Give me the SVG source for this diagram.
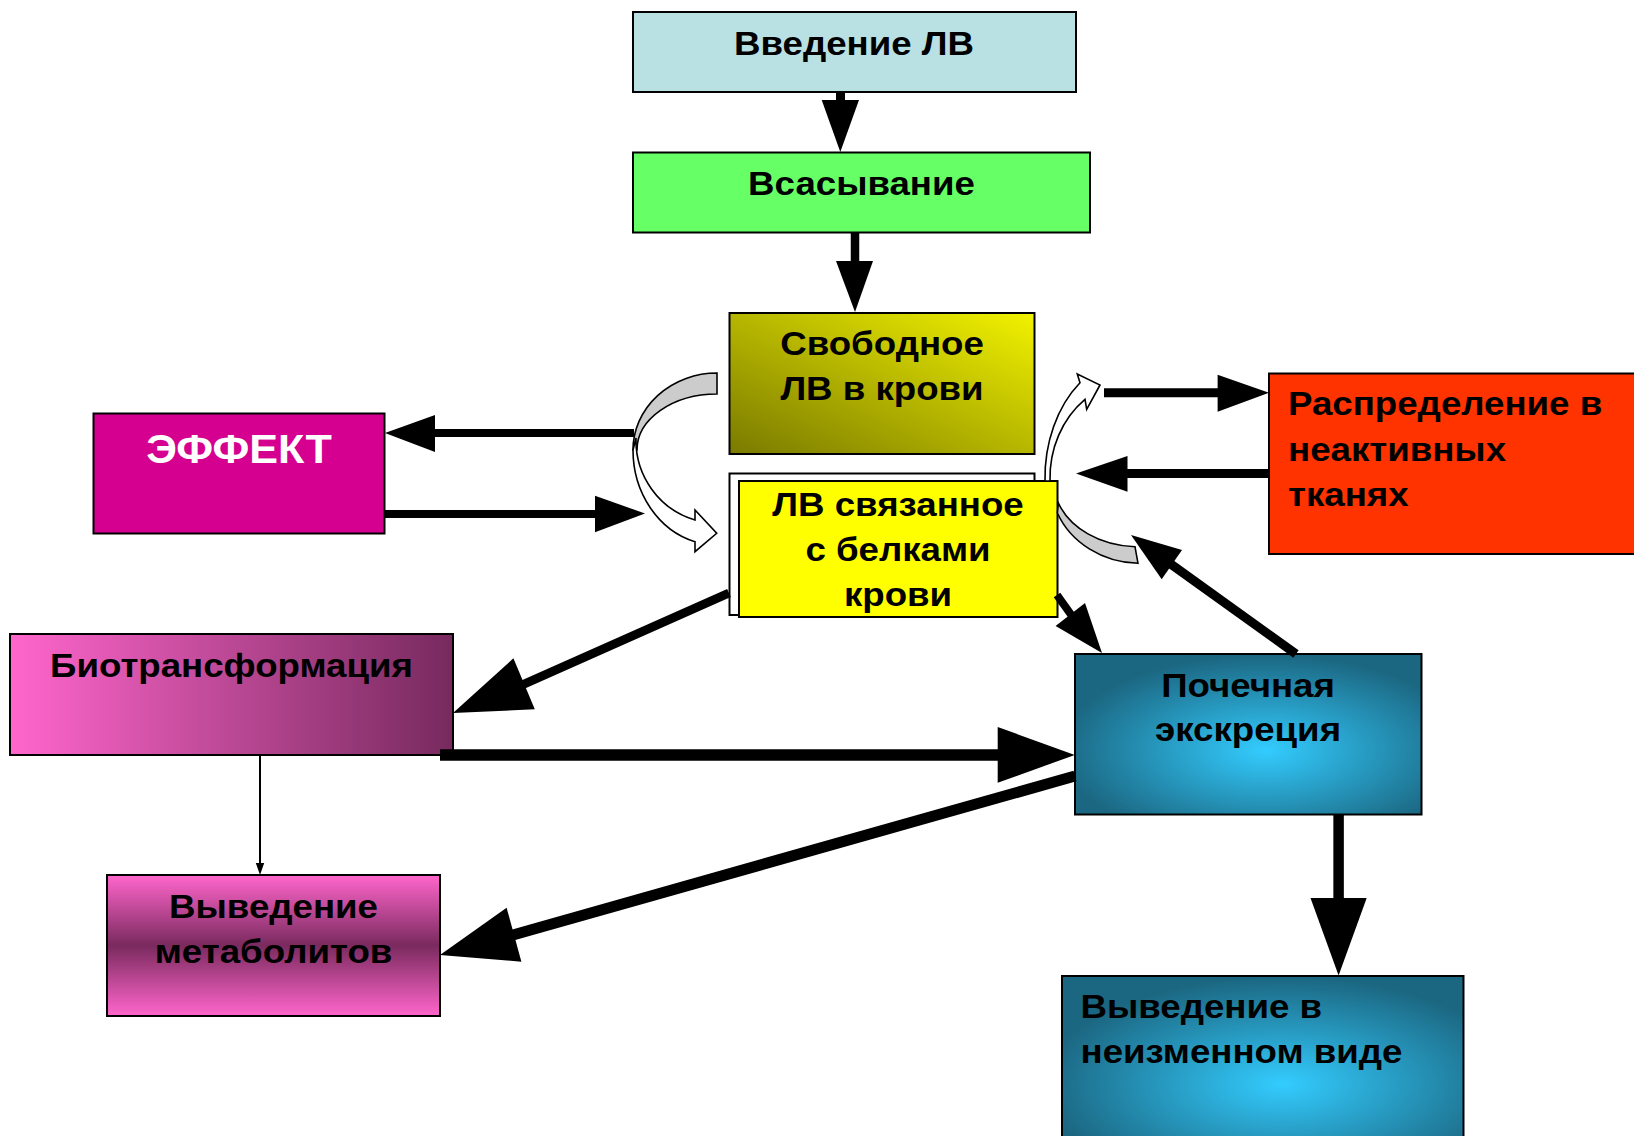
<svg xmlns="http://www.w3.org/2000/svg" width="1634" height="1136" viewBox="0 0 1634 1136">
<defs>
<style>
.box{stroke:#000;stroke-width:2}
.t{font-family:"Liberation Sans",Arial,sans-serif;font-weight:bold;font-size:34px;fill:#000}
.c{text-anchor:middle}
.w{fill:#fff;font-size:40px}
.sh{stroke:#000;fill:none;stroke-linecap:butt}
.hd{fill:#000;stroke:none}
.crv{stroke:#000;stroke-width:1.6;stroke-linejoin:miter}
</style>
<linearGradient id="gOlive" x1="0" y1="1" x2="1" y2="0">
<stop offset="0" stop-color="#7a7a00"/>
<stop offset="1" stop-color="#f2f200"/>
</linearGradient>
<linearGradient id="gBio" x1="0" y1="0" x2="1" y2="0">
<stop offset="0" stop-color="#ff66cc"/>
<stop offset="1" stop-color="#772a5e"/>
</linearGradient>
<linearGradient id="gMet" x1="0" y1="0" x2="0" y2="1">
<stop offset="0" stop-color="#ff66cc"/>
<stop offset="0.5" stop-color="#7a2a5e"/>
<stop offset="1" stop-color="#ff66cc"/>
</linearGradient>
<radialGradient id="gCyan" cx="0.55" cy="0.6" r="0.6">
<stop offset="0" stop-color="#33ccff"/>
<stop offset="1" stop-color="#1b6680"/>
</radialGradient>
</defs>
<rect width="1634" height="1136" fill="#fff"/>

<g id="n1">
<rect class="box" x="633" y="12" width="443" height="80" fill="#b9e0e3"/>
<text class="t c" transform="translate(854 55) scale(1.078 1)">Введение ЛВ</text>
</g>
<g id="n2">
<rect class="box" x="633" y="152.5" width="457" height="80" fill="#66ff66"/>
<text class="t c" transform="translate(861.5 195) scale(1.078 1)">Всасывание</text>
</g>
<g id="n3">
<rect class="box" x="729.5" y="313" width="305" height="141" fill="url(#gOlive)"/>
<text class="t c" transform="translate(882 355) scale(1.078 1)"><tspan x="0" y="0">Свободное</tspan><tspan x="0" y="45">ЛВ в крови</tspan></text>
</g>
<g id="n4">
<rect class="box" x="729.5" y="473.5" width="305" height="141.5" fill="#fff"/>
<rect class="box" x="739" y="481" width="318.5" height="136" fill="#ffff00"/>
<text class="t c" transform="translate(898 516) scale(1.078 1)"><tspan x="0" y="0">ЛВ связанное</tspan><tspan x="0" y="45">с белками</tspan><tspan x="0" y="90">крови</tspan></text>
</g>
<g id="n5">
<rect class="box" x="93.5" y="413.5" width="291" height="120" fill="#d5008f"/>
<text class="t c w" transform="translate(239 463) scale(1.078 1)">ЭФФЕКТ</text>
</g>
<g id="n6">
<rect class="box" x="1269" y="373.5" width="380" height="180.5" fill="#ff3300"/>
<text class="t" transform="translate(1288 415) scale(1.078 1)"><tspan x="0" y="0">Распределение в</tspan><tspan x="0" y="46">неактивных</tspan><tspan x="0" y="91.5">тканях</tspan></text>
</g>
<g id="n7">
<rect class="box" x="10" y="634" width="443" height="121" fill="url(#gBio)"/>
<text class="t c" transform="translate(231.5 677) scale(1.078 1)">Биотрансформация</text>
</g>
<g id="n8">
<rect class="box" x="1075" y="654" width="346.5" height="160.5" fill="url(#gCyan)"/>
<text class="t c" transform="translate(1248 697) scale(1.078 1)"><tspan x="0" y="0">Почечная</tspan><tspan x="0" y="44.5">экскреция</tspan></text>
</g>
<g id="n9">
<rect class="box" x="107" y="875" width="333" height="141" fill="url(#gMet)"/>
<text class="t c" transform="translate(273.5 918) scale(1.078 1)"><tspan x="0" y="0">Выведение</tspan><tspan x="0" y="45">метаболитов</tspan></text>
</g>
<g id="n10">
<rect class="box" x="1062" y="976" width="401.5" height="180" fill="url(#gCyan)"/>
<text class="t" transform="translate(1080.5 1018) scale(1.078 1)"><tspan x="0" y="0">Выведение в</tspan><tspan x="0" y="45.3">неизменном виде</tspan></text>
</g>

<g id="connectors">
<!-- curved arrow left -->
<path class="crv" fill="#cccccc" d="M717,373 A84,77 0 0 0 633,450 L637,450 A80,56 0 0 1 717,394 Z"/>
<path class="crv" fill="#ffffff" d="M633,450 A84,95 0 0 0 695,541.7 L695,551.7 L716.7,533.3 L695,510 L695,520 A82,83 0 0 1 636,438 Z"/>
<!-- curved arrow right -->
<path class="crv" fill="#cccccc" d="M1057.4,513 A90,80 0 0 0 1138,563.3 L1135,546.7 A85,65 0 0 1 1058.4,503 Z"/>
<path class="crv" fill="#ffffff" d="M1045,481 A92,121 0 0 1 1080,382.7 L1077.3,374 L1100,385 L1086.7,409.3 L1085,399.3 A87,98 0 0 0 1050,481 Z"/>

<line class="sh" x1="840.5" y1="92" x2="840.5" y2="101" stroke-width="9"/>
<polygon class="hd" points="821.7,100 859,100 840.3,152"/>
<line class="sh" x1="855" y1="233" x2="855" y2="262" stroke-width="8.5"/>
<polygon class="hd" points="836,261 873,261 855,312"/>

<line class="sh" x1="634" y1="433" x2="434" y2="433" stroke-width="8"/>
<polygon class="hd" points="385,433 435,415 435,452"/>
<line class="sh" x1="385" y1="514" x2="596" y2="514" stroke-width="8"/>
<polygon class="hd" points="645,513.5 595,495.7 595,532.3"/>

<line class="sh" x1="1104" y1="392.7" x2="1219" y2="392.7" stroke-width="9"/>
<polygon class="hd" points="1269,392.7 1217.6,374.7 1217.6,411.7"/>
<line class="sh" x1="1269" y1="473.5" x2="1126" y2="473.5" stroke-width="9"/>
<polygon class="hd" points="1076,473.5 1127.5,456 1127.5,491.7"/>

<line class="sh" x1="729" y1="593" x2="522" y2="685" stroke-width="9"/>
<polygon class="hd" points="453,713 513.4,658.3 534.8,709.3"/>

<line class="sh" x1="1057" y1="595" x2="1072" y2="616" stroke-width="8"/>
<polygon class="hd" points="1102,653 1055.6,626 1085,603"/>

<line class="sh" x1="1296" y1="654" x2="1170" y2="563.5" stroke-width="9"/>
<polygon class="hd" points="1131,535 1182,550 1161.7,579.3"/>

<line class="sh" x1="440" y1="755" x2="999" y2="755" stroke-width="11.3"/>
<polygon class="hd" points="1074.8,755 997.7,727 997.7,782.7"/>

<line class="sh" x1="1075" y1="776" x2="512" y2="935.3" stroke-width="11"/>
<polygon class="hd" points="440,955 506.6,907.7 521.4,961.7"/>

<line class="sh" x1="1338.6" y1="815" x2="1338.6" y2="899" stroke-width="10.5"/>
<polygon class="hd" points="1310.5,898 1366.7,898 1338.6,975.5"/>

<line class="sh" x1="260" y1="755" x2="260" y2="864" stroke-width="2"/>
<polygon class="hd" points="255.8,863 264.2,863 260,875"/>
</g>
</svg>
